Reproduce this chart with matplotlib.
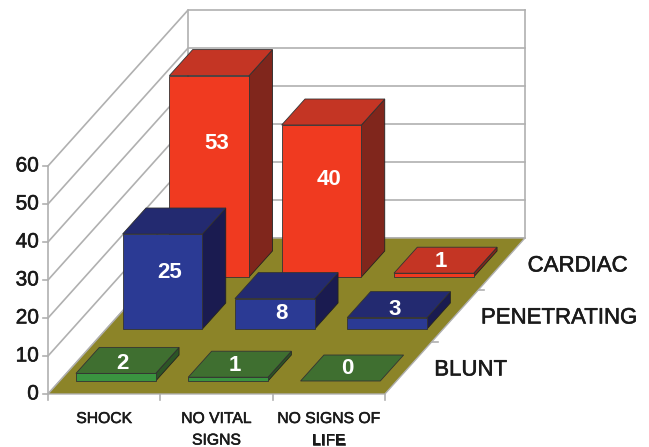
import matplotlib
matplotlib.use('Agg')
import matplotlib.pyplot as plt
import matplotlib.patheffects as pe
from matplotlib.patches import Polygon

plt.rcParams['font.family'] = ['Liberation Sans', 'DejaVu Sans']

categories = ['SHOCK', 'NO VITAL\nSIGNS', 'NO SIGNS OF\nLIFE']
series = ['BLUNT', 'PENETRATING', 'CARDIAC']
blunt = [2, 1, 0]
penetrating = [25, 8, 3]
cardiac = [53, 40, 1]
y_ticks = [0, 10, 20, 30, 40, 50, 60]

# front, top, side shades per series
colors = {
    'BLUNT': ('#3A9440', '#3F6F30', '#2C5526'),
    'PENETRATING': ('#2B3A94', '#232A70', '#1A1B50'),
    'CARDIAC': ('#F03A20', '#C43524', '#80261C'),
}
grid_color = '#B0B0B0'
floor_color = '#8C8428'
text_color = '#1A1A1A'


# oblique projection: category position, depth position, value -> figure pixels
def project(x, d, z):
    return (48 + 112.3 * x + 46.7 * d, 394 - 52 * d - 3.8 * z)


def face(ax, points, color, edge, zorder):
    ax.add_patch(Polygon([project(*p) for p in points], closed=True, facecolor=color,
                         edgecolor=edge, linewidth=0.6, zorder=zorder))


def bar3d(ax, i, j, value, shades, zorder):
    x0, x1 = i + 0.145, i + 0.855
    d0, d1 = j + 0.25, j + 0.75
    front, top, side = shades
    if value > 0:
        face(ax, [(x1, d0, 0), (x1, d1, 0), (x1, d1, value), (x1, d0, value)], side, '#222222', zorder)
        face(ax, [(x0, d0, 0), (x1, d0, 0), (x1, d0, value), (x0, d0, value)], front, '#333333', zorder)
    face(ax, [(x0, d0, value), (x1, d0, value), (x1, d1, value), (x0, d1, value)], top, '#333333', zorder)


def label_height(value):
    # short bars carry the label on the top face, tall ones inside the front
    if value <= 3:
        return 1.3 + 0.6 * value
    return max(2, 0.73 * value - 5.5)


# slightly heavier outline for the dark labels
heavy = [pe.withStroke(linewidth=0.4, foreground=text_color)]

fig = plt.figure(figsize=(6.49, 4.47), dpi=100)
ax = fig.add_axes([0, 0, 1, 1])
ax.set_xlim(0, 649)
ax.set_ylim(447, 0)
ax.axis('off')

# back and side walls with gridlines
for t in y_ticks:
    xs, ys = zip(project(0, 0, t), project(0, 3, t), project(3, 3, t))
    ax.plot(xs, ys, color=grid_color, lw=1.2, zorder=1)
    px, py = project(0, 0, t)
    ax.plot([px - 5, px], [py, py], color=grid_color, lw=1.2, zorder=1)
    ax.text(px - 9, py, str(t), ha='right', va='center', fontsize=15, color=text_color, path_effects=heavy)
for p in [(0, 0), (0, 3), (3, 3)]:
    xs, ys = zip(project(p[0], p[1], 0), project(p[0], p[1], 60))
    ax.plot(xs, ys, color=grid_color, lw=1.2, zorder=1)

# floor
ax.add_patch(Polygon([project(0, 0, 0), project(3, 0, 0), project(3, 3, 0), project(0, 3, 0)],
                     closed=True, facecolor=floor_color, edgecolor=grid_color, linewidth=1, zorder=2))

# axis ticks under the floor
for i in range(4):
    px, py = project(i, 0, 0)
    ax.plot([px, px], [py, py + 6], color=grid_color, lw=1.2, zorder=1)
for j in range(1, 3):
    px, py = project(3, j, 0)
    ax.plot([px, px + 6], [py, py], color=grid_color, lw=1.2, zorder=1)

# bars from the back row to the front so nearer ones cover farther ones
rows = [blunt, penetrating, cardiac]
for j in range(2, -1, -1):
    for i, value in enumerate(rows[j]):
        bar3d(ax, i, j, value, colors[series[j]], zorder=3 + (2 - j))

# value labels
for j, row in enumerate(rows):
    for i, value in enumerate(row):
        px, py = project(i + 0.5, j + 0.4, label_height(value))
        ax.text(px, py, str(value), ha='center', va='center', fontsize=16,
                fontweight='bold', color='white', zorder=10)

# category and series labels
for i, name in enumerate(categories):
    px, py = project(i + 0.5, 0, 0)
    ax.text(px, 411, name, ha='center', va='top', fontsize=11.3, color=text_color,
            linespacing=1.55, path_effects=heavy)
for j, name in enumerate(series):
    px, py = project(3, j + 0.5, 0)
    ax.text(px + 26, py + 2, name, ha='left', va='center', fontsize=16, color=text_color, path_effects=heavy)

fig.savefig('out.png', dpi=100)
